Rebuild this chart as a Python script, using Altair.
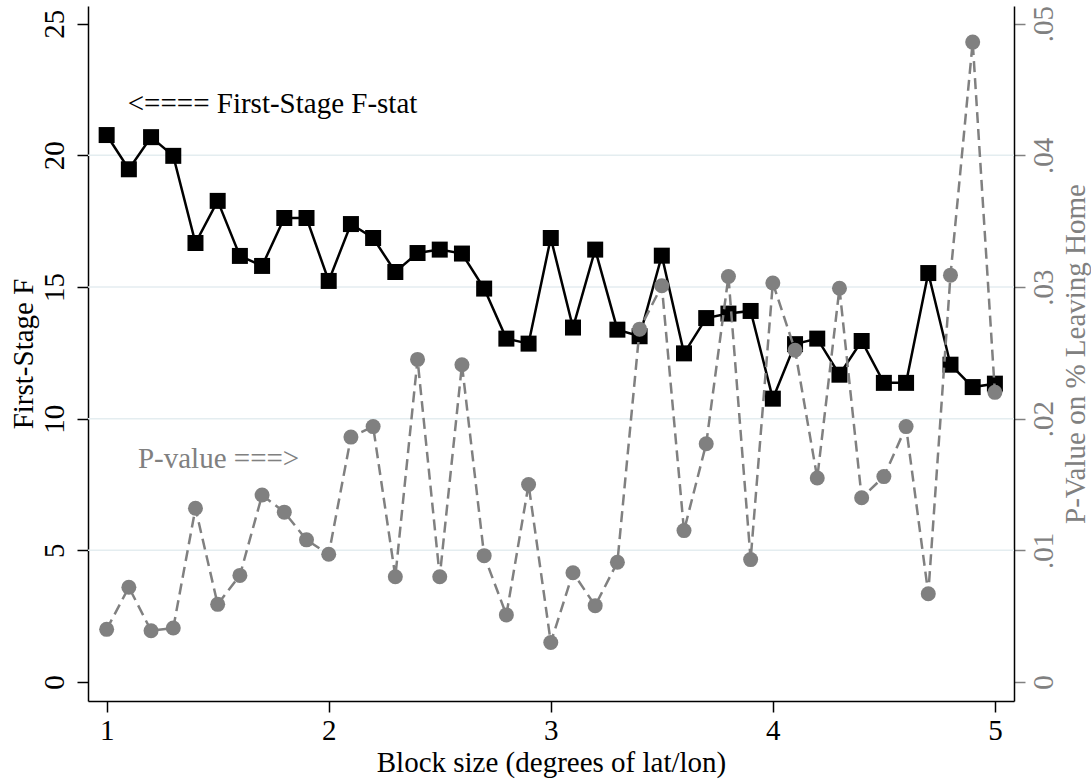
import altair as alt
import pandas as pd

block = [1.0, 1.1, 1.2, 1.3, 1.4, 1.5, 1.6, 1.7, 1.8, 1.9,
         2.0, 2.1, 2.2, 2.3, 2.4, 2.5, 2.6, 2.7, 2.8, 2.9,
         3.0, 3.1, 3.2, 3.3, 3.4, 3.5, 3.6, 3.7, 3.8, 3.9,
         4.0, 4.1, 4.2, 4.3, 4.4, 4.5, 4.6, 4.7, 4.8, 4.9, 5.0]
fstat = [20.77, 19.47, 20.69, 19.98, 16.67, 18.27, 16.18, 15.80, 17.62, 17.62,
         15.23, 17.39, 16.86, 15.57, 16.29, 16.42, 16.27, 14.94, 13.04, 12.85,
         16.86, 13.46, 16.42, 13.38, 13.13, 16.19, 12.48, 13.82, 13.99, 14.09,
         10.76, 12.83, 13.04, 11.67, 12.95, 11.36, 11.36, 15.53, 12.05, 11.20, 11.33]
pval = [0.0040, 0.0072, 0.0039, 0.0041, 0.0132, 0.0059, 0.0081, 0.0142, 0.0129, 0.0108,
        0.0097, 0.0186, 0.0194, 0.0080, 0.0245, 0.0080, 0.0241, 0.0096, 0.0051, 0.0150,
        0.0030, 0.0083, 0.0058, 0.0091, 0.0268, 0.0301, 0.0115, 0.0181, 0.0308, 0.0093,
        0.0303, 0.0252, 0.0155, 0.0299, 0.0140, 0.0156, 0.0194, 0.0067, 0.0309, 0.0486, 0.0220]

x_ticks = [1, 2, 3, 4, 5]
f_ticks = [0, 5, 10, 15, 20, 25]
p_ticks = [0, 0.01, 0.02, 0.03, 0.04, 0.05]
grid_vals = [5, 10, 15, 20]

ann_text = ["<==== First-Stage F-stat", "P-value ===>"]
ann_x = [1.095, 1.141]
ann_y = [21.6, 8.12]
ann_color = ["black", "#808080"]

df = pd.DataFrame({"x": block, "F": fstat, "P": pval})
gdf = pd.DataFrame({"g": grid_vals})
adf = pd.DataFrame({"t": ann_text, "x": ann_x, "y": ann_y, "c": ann_color})

FONT = "Liberation Serif"
FS = 29
GRAY = "#808080"

xdom = [0.916, 5.086]
fdom = [-0.72, 25.67]
pdom = [-0.72 / 500, 25.67 / 500]

xscale = alt.Scale(domain=xdom, nice=False, zero=False)
fscale = alt.Scale(domain=fdom, nice=False, zero=False)
pscale = alt.Scale(domain=pdom, nice=False, zero=False)

x_axis = alt.Axis(values=x_ticks, format="d", grid=False, title="Block size (degrees of lat/lon)",
                  tickSize=11, tickColor="black", tickWidth=1.5, domainColor="black", domainWidth=1.5,
                  labelFont=FONT, labelFontSize=FS, labelColor="black", labelPadding=4,
                  titleFont=FONT, titleFontSize=FS, titleFontWeight="normal", titleColor="black",
                  titleBaseline="alphabetic", titleY=70, titleX=463)

f_axis = alt.Axis(values=f_ticks, grid=False, title="First-Stage F", orient="left",
                  tickSize=11, tickColor="black", tickWidth=1.5, domainColor="black", domainWidth=1.5,
                  labelFont=FONT, labelFontSize=FS, labelColor="black", labelAngle=270,
                  labelAlign="center", labelBaseline="alphabetic", labelPadding=14,
                  titleFont=FONT, titleFontSize=FS, titleFontWeight="normal", titleColor="black",
                  titleAngle=270, titleBaseline="alphabetic", titleAlign="center",
                  titleX=-56, titleY=347.5)

p_axis = alt.Axis(values=p_ticks, grid=False, title="P-Value on % Leaving Home", orient="right",
                  labelExpr="datum.value == 0 ? '0' : replace(format(datum.value, '.2f'), '0.', '.')",
                  tickSize=11, tickColor=GRAY, tickWidth=1.5, domainColor="black", domainWidth=1.5,
                  labelFont=FONT, labelFontSize=FS, labelColor=GRAY, labelAngle=270,
                  labelAlign="center", labelBaseline="alphabetic", labelPadding=27,
                  titleFont=FONT, titleFontSize=FS, titleFontWeight="normal", titleColor=GRAY,
                  titleAngle=270, titleBaseline="alphabetic", titleAlign="center",
                  titleX=70, titleY=347.5)

X = alt.X("x:Q", scale=xscale, axis=x_axis)

grid = alt.Chart(gdf).mark_rule(color="#e4edf0", strokeWidth=1.5).encode(
    y=alt.Y("g:Q", scale=fscale, axis=f_axis)
)
fline = alt.Chart(df).mark_line(color="black", strokeWidth=2.5).encode(
    x=X, y=alt.Y("F:Q", scale=fscale, axis=f_axis)
)
fpts = alt.Chart(df).mark_point(shape="square", filled=True, color="black", size=256, opacity=1).encode(
    x=X, y=alt.Y("F:Q", scale=fscale, axis=f_axis)
)
texts = alt.Chart(adf).mark_text(font=FONT, fontSize=FS, align="left", baseline="alphabetic").encode(
    x=X, y=alt.Y("y:Q", scale=fscale, axis=f_axis), text="t:N",
    color=alt.Color("c:N", scale=None)
)
left = alt.layer(grid, fline, fpts, texts)

pline = alt.Chart(df).mark_line(color=GRAY, strokeWidth=2.5, strokeDash=[11, 6]).encode(
    x=X, y=alt.Y("P:Q", scale=pscale, axis=p_axis)
)
ppts = alt.Chart(df).mark_point(shape="circle", filled=True, color=GRAY, size=225, opacity=1).encode(
    x=X, y=alt.Y("P:Q", scale=pscale, axis=p_axis)
)
right = alt.layer(pline, ppts)

chart = alt.layer(left, right).resolve_scale(y="independent").properties(
    width=926, height=695,
    autosize=alt.AutoSizeParams(type="none"),
    padding={"left": 88, "top": 6, "right": 77, "bottom": 80},
    background="white",
).configure_view(stroke=None)

chart.save("out.html", embed_options={"renderer": "svg", "actions": False})
